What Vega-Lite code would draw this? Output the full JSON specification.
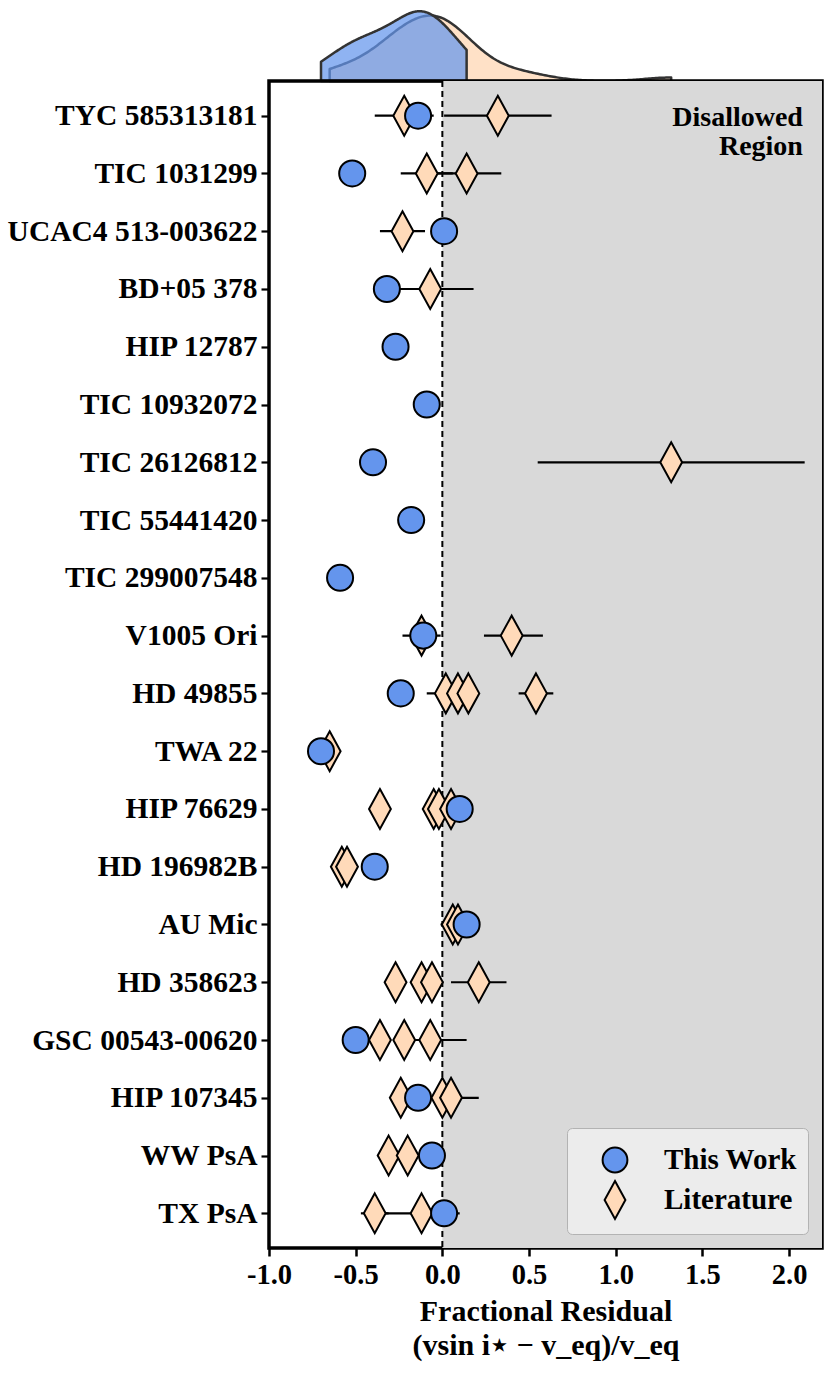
{
  "$schema": "https://vega.github.io/schema/vega-lite/v6.json",
  "background": "white",
  "padding": {"left": 5, "top": 0, "right": 5, "bottom": 5},
  "config": {
    "font": "Liberation Serif",
    "locale": {"number": {"decimal": ".", "thousands": ",", "grouping": [3], "currency": ["$", ""], "minus": "-"}},
    "axis": {"labelFont": "Liberation Serif", "titleFont": "Liberation Serif", "labelFontWeight": "bold", "titleFontWeight": "bold", "labelColor": "black", "titleColor": "black", "tickColor": "black", "grid": false},
    "legend": {
      "orient": "bottom-right", "offset": 14, "padding": 11,
      "labelFont": "Liberation Serif", "labelFontSize": 29, "labelFontWeight": "bold", "labelColor": "black",
      "symbolSize": 1600, "symbolStrokeWidth": 2, "symbolStrokeColor": "black",
      "fillColor": "#ececec", "strokeColor": "#b3b3b3", "cornerRadius": 5,
      "labelOffset": 28, "symbolOffset": 16, "rowPadding": 0
    }
  },
  "datasets": {
    "pts": [
      {"star": "TYC 585313181", "src": "Literature", "v": -0.22, "lo": -0.39, "hi": -0.05},
      {"star": "TYC 585313181", "src": "Literature", "v": 0.32, "lo": 0.01, "hi": 0.63},
      {"star": "TIC 1031299", "src": "Literature", "v": -0.09, "lo": -0.24, "hi": 0.06},
      {"star": "TIC 1031299", "src": "Literature", "v": 0.14, "lo": -0.06, "hi": 0.34},
      {"star": "UCAC4 513-003622", "src": "Literature", "v": -0.23, "lo": -0.36, "hi": -0.10},
      {"star": "BD+05 378", "src": "Literature", "v": -0.07, "lo": -0.32, "hi": 0.18},
      {"star": "TIC 26126812", "src": "Literature", "v": 1.32, "lo": 0.55, "hi": 2.09},
      {"star": "V1005 Ori", "src": "Literature", "v": -0.12, "lo": -0.23, "hi": -0.01},
      {"star": "V1005 Ori", "src": "Literature", "v": 0.40, "lo": 0.24, "hi": 0.58},
      {"star": "HD 49855", "src": "Literature", "v": 0.02, "lo": -0.09, "hi": 0.13},
      {"star": "HD 49855", "src": "Literature", "v": 0.09},
      {"star": "HD 49855", "src": "Literature", "v": 0.15},
      {"star": "HD 49855", "src": "Literature", "v": 0.54, "lo": 0.44, "hi": 0.64},
      {"star": "TWA 22", "src": "Literature", "v": -0.65},
      {"star": "HIP 76629", "src": "Literature", "v": -0.36},
      {"star": "HIP 76629", "src": "Literature", "v": -0.05},
      {"star": "HIP 76629", "src": "Literature", "v": -0.02},
      {"star": "HIP 76629", "src": "Literature", "v": 0.05},
      {"star": "HD 196982B", "src": "Literature", "v": -0.58},
      {"star": "HD 196982B", "src": "Literature", "v": -0.55},
      {"star": "AU Mic", "src": "Literature", "v": 0.06, "lo": -0.01, "hi": 0.13},
      {"star": "AU Mic", "src": "Literature", "v": 0.09},
      {"star": "HD 358623", "src": "Literature", "v": -0.27},
      {"star": "HD 358623", "src": "Literature", "v": -0.12},
      {"star": "HD 358623", "src": "Literature", "v": -0.06},
      {"star": "HD 358623", "src": "Literature", "v": 0.21, "lo": 0.05, "hi": 0.37},
      {"star": "GSC 00543-00620", "src": "Literature", "v": -0.36},
      {"star": "GSC 00543-00620", "src": "Literature", "v": -0.22},
      {"star": "GSC 00543-00620", "src": "Literature", "v": -0.07, "lo": -0.28, "hi": 0.14},
      {"star": "HIP 107345", "src": "Literature", "v": -0.24},
      {"star": "HIP 107345", "src": "Literature", "v": 0.00},
      {"star": "HIP 107345", "src": "Literature", "v": 0.05, "lo": -0.11, "hi": 0.21},
      {"star": "WW PsA", "src": "Literature", "v": -0.31},
      {"star": "WW PsA", "src": "Literature", "v": -0.20},
      {"star": "TX PsA", "src": "Literature", "v": -0.39, "lo": -0.47, "hi": -0.31},
      {"star": "TX PsA", "src": "Literature", "v": -0.12, "lo": -0.34, "hi": 0.10},
      {"star": "TYC 585313181", "src": "This Work", "v": -0.14},
      {"star": "TIC 1031299", "src": "This Work", "v": -0.52},
      {"star": "UCAC4 513-003622", "src": "This Work", "v": 0.01},
      {"star": "BD+05 378", "src": "This Work", "v": -0.32},
      {"star": "HIP 12787", "src": "This Work", "v": -0.27},
      {"star": "TIC 10932072", "src": "This Work", "v": -0.09},
      {"star": "TIC 26126812", "src": "This Work", "v": -0.40},
      {"star": "TIC 55441420", "src": "This Work", "v": -0.18},
      {"star": "TIC 299007548", "src": "This Work", "v": -0.59},
      {"star": "V1005 Ori", "src": "This Work", "v": -0.11},
      {"star": "HD 49855", "src": "This Work", "v": -0.24},
      {"star": "TWA 22", "src": "This Work", "v": -0.70},
      {"star": "HIP 76629", "src": "This Work", "v": 0.10},
      {"star": "HD 196982B", "src": "This Work", "v": -0.39},
      {"star": "AU Mic", "src": "This Work", "v": 0.14},
      {"star": "GSC 00543-00620", "src": "This Work", "v": -0.50},
      {"star": "HIP 107345", "src": "This Work", "v": -0.14},
      {"star": "WW PsA", "src": "This Work", "v": -0.06},
      {"star": "TX PsA", "src": "This Work", "v": 0.01}
    ]
  },
  "data": {"name": "pts"},
  "spacing": 0,
  "bounds": "flush",
  "resolve": {"legend": {"fill": "independent", "shape": "independent", "stroke": "independent"}, "scale": {"fill": "independent", "shape": "independent", "stroke": "independent"}},
  "vconcat": [
    {
      "width": 553,
      "height": 81,
      "view": {"stroke": null},
      "layer": [
        {
          "transform": [
            {"filter": "datum.src === 'Literature'"},
            {"density": "v", "bandwidth": 0.15, "extent": [-0.65, 1.32], "steps": 200}
          ],
          "mark": {"type": "area", "fill": "#FFDAB9", "fillOpacity": 0.8, "stroke": "#333333", "strokeWidth": 2.5, "strokeJoin": "round", "clip": false},
          "encoding": {
            "x": {"field": "value", "type": "quantitative", "scale": {"domain": [-1, 2.19], "nice": false, "zero": false}, "axis": null},
            "y": {"field": "density", "type": "quantitative", "scale": {"domain": [0, 1.72], "nice": false}, "axis": null}
          }
        },
        {
          "transform": [
            {"filter": "datum.src === 'This Work'"},
            {"density": "v", "bandwidth": 0.125, "extent": [-0.70, 0.14], "steps": 200}
          ],
          "mark": {"type": "area", "fill": "#6495ED", "fillOpacity": 0.72, "stroke": "#333333", "strokeWidth": 2.5, "strokeJoin": "round", "clip": false},
          "encoding": {
            "x": {"field": "value", "type": "quantitative"},
            "y": {"field": "density", "type": "quantitative"}
          }
        }
      ]
    },
    {
      "width": 553,
      "height": 1167,
      "view": {"stroke": "black", "strokeWidth": 3.5},
      "layer": [
        {
          "data": {"values": [{}]},
          "mark": {"type": "rect", "color": "#d9d9d9"},
          "encoding": {
            "x": {"datum": 0, "type": "quantitative", "scale": {"domain": [-1, 2.19], "nice": false, "zero": false},
              "axis": {"values": [-1, -0.5, 0, 0.5, 1, 1.5, 2], "format": ".1f", "labelFontSize": 28.5, "tickSize": 8, "tickWidth": 2.5, "domain": false, "labelPadding": 4, "labelFlush": false,
                "title": ["Fractional Residual", "(vsin i⋆ − v_eq)/v_eq"], "titleFontSize": 30, "titlePadding": 8, "titleLineHeight": 34}},
            "x2": {"datum": 2.19}
          }
        },
        {
          "data": {"values": [{}]},
          "mark": {"type": "rule", "strokeDash": [6, 4], "strokeWidth": 2, "color": "black"},
          "encoding": {"x": {"datum": 0, "type": "quantitative"}}
        },
        {
          "transform": [{"filter": "isValid(datum.lo)"}],
          "mark": {"type": "rule", "strokeWidth": 2.2, "color": "black"},
          "encoding": {
            "y": {"field": "star", "type": "nominal",
              "scale": {"type": "point", "padding": 0.6, "domain": ["TYC 585313181", "TIC 1031299", "UCAC4 513-003622", "BD+05 378", "HIP 12787", "TIC 10932072", "TIC 26126812", "TIC 55441420", "TIC 299007548", "V1005 Ori", "HD 49855", "TWA 22", "HIP 76629", "HD 196982B", "AU Mic", "HD 358623", "GSC 00543-00620", "HIP 107345", "WW PsA", "TX PsA"]},
              "axis": {"title": null, "labelFontSize": 29.5, "tickSize": 8, "tickWidth": 2.2, "domain": false, "labelPadding": 4, "labelLimit": 400}},
            "x": {"field": "lo", "type": "quantitative"},
            "x2": {"field": "hi"}
          }
        },
        {
          "mark": {"type": "point", "filled": true, "fillOpacity": 1, "opacity": 1, "size": 1764, "strokeWidth": 2},
          "encoding": {
            "y": {"field": "star", "type": "nominal"},
            "x": {"field": "v", "type": "quantitative"},
            "stroke": {"field": "src", "type": "nominal", "scale": {"domain": ["This Work", "Literature"], "range": ["black", "black"]}, "legend": {"title": null}},
            "fill": {"field": "src", "type": "nominal", "scale": {"domain": ["This Work", "Literature"], "range": ["#6495ED", "#FFDAB9"]}, "legend": {"title": null}},
            "shape": {"field": "src", "type": "nominal", "scale": {"domain": ["This Work", "Literature"], "range": ["M-0.62,0A0.62,0.62,0,1,0,0.62,0A0.62,0.62,0,1,0,-0.62,0Z", "M0,-0.95L0.52,0L0,0.95L-0.52,0Z"]}, "legend": {"title": null}}
          }
        },
        {
          "data": {"values": [{}]},
          "mark": {"type": "text", "text": ["Disallowed", "Region"], "align": "right", "baseline": "alphabetic", "dy": 10, "lineHeight": 29, "fontSize": 28, "fontWeight": "bold", "font": "Liberation Serif", "color": "black"},
          "encoding": {
            "x": {"datum": 2.08, "type": "quantitative"},
            "y": {"datum": "TYC 585313181", "type": "nominal"}
          }
        }
      ]
    }
  ]
}
